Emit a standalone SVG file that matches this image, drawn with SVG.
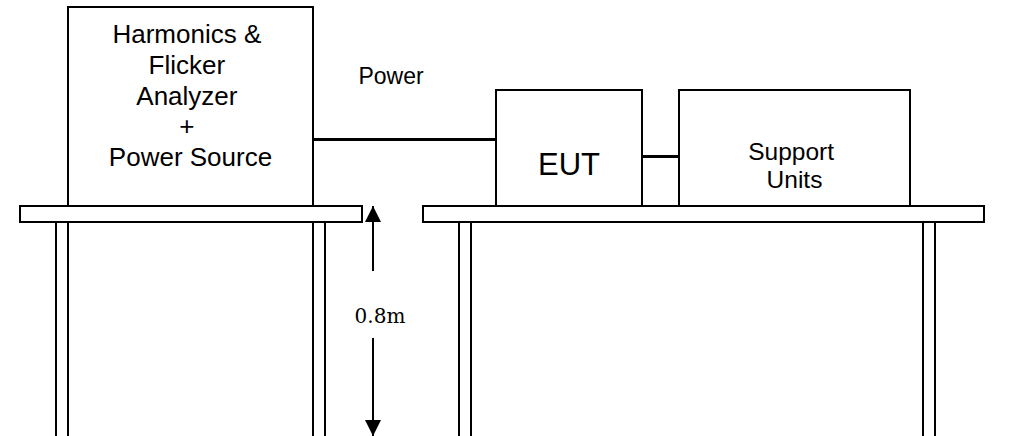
<svg xmlns="http://www.w3.org/2000/svg" width="1022" height="436" viewBox="0 0 1022 436">
  <defs>
    <style>
      .box { fill: #ffffff; stroke: #000000; stroke-width: 2; }
      .tbl { fill: #ffffff; stroke: #000000; stroke-width: 2; }
      .leg { fill: #ffffff; stroke: #000000; stroke-width: 2; }
      .wire { stroke: #000000; stroke-width: 3; fill: none; }
      .dim { stroke: #000000; stroke-width: 2; fill: none; }
      .lbl { font-family: "Liberation Sans", Arial, sans-serif; fill: #000000; text-anchor: middle; }
      .dimtxt { font-family: "DejaVu Serif", "Liberation Serif", serif; fill: #000000; text-anchor: middle; font-size: 20px; }
    </style>
    <marker id="ah" viewBox="0 0 16 16" refX="16" refY="8" markerWidth="16" markerHeight="16" markerUnits="userSpaceOnUse" orient="auto">
      <path d="M0,0 L16,8 L0,16 Z" fill="#000000"/>
    </marker>
  </defs>

  <g id="table-left">
    <rect class="leg" x="56" y="222" width="12" height="230"/>
    <rect class="leg" x="313" y="222" width="12" height="230"/>
    <rect class="tbl" x="20" y="206" width="342" height="16"/>
  </g>

  <g id="table-right">
    <rect class="leg" x="459" y="222" width="12" height="230"/>
    <rect class="leg" x="923" y="222" width="12" height="230"/>
    <rect class="tbl" x="423" y="206" width="561" height="16"/>
  </g>

  <g id="connectors">
    <line class="wire" x1="313" y1="139.5" x2="496" y2="139.5"/>
    <line class="wire" x1="642" y1="156.5" x2="679" y2="156.5"/>
  </g>

  <g id="analyzer">
    <rect class="box" x="68" y="7" width="245" height="199"/>
    <text class="lbl" font-size="26" x="190.5">
      <tspan x="190.5" y="43">Harmonics &amp;</tspan>
      <tspan x="190.5" y="74">Flicker</tspan>
      <tspan x="190.5" y="104.5">Analyzer</tspan>
      <tspan x="190.5" y="135">+</tspan>
      <tspan x="190.5" y="166">Power Source</tspan>
    </text>
  </g>

  <g id="power-label">
    <text class="lbl" font-size="23" x="391" y="84">Power</text>
  </g>

  <g id="eut">
    <rect class="box" x="496" y="90" width="146" height="116"/>
    <text class="lbl" font-size="31" x="569" y="175">EUT</text>
  </g>

  <g id="support">
    <rect class="box" x="679" y="90" width="231" height="116"/>
    <text class="lbl" font-size="24.5">
      <tspan x="794.5" y="160">Support</tspan>
      <tspan x="794.5" y="188">Units</tspan>
    </text>
  </g>

  <g id="dimension">
    <line class="dim" x1="373" y1="271" x2="373" y2="206" marker-end="url(#ah)"/>
    <line class="dim" x1="373" y1="338" x2="373" y2="436" marker-end="url(#ah)"/>
    <text class="dimtxt" x="380" y="323">0.8m</text>
  </g>
</svg>
